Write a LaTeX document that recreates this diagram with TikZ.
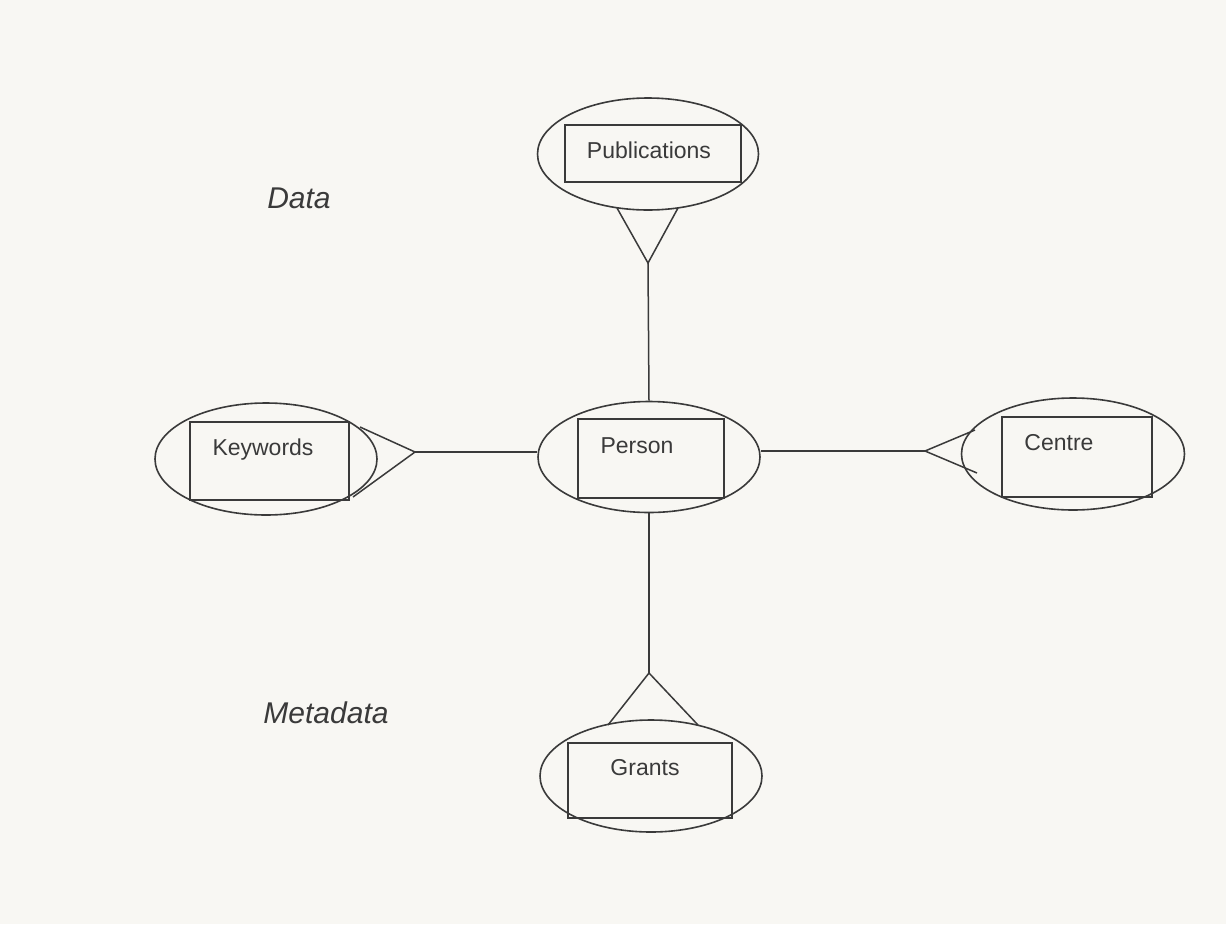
\documentclass[tikz,border=0pt]{standalone}
\usepackage{fontspec}
\setmainfont{Liberation Sans}
\usetikzlibrary{shapes.geometric}
\definecolor{paper}{HTML}{F8F7F3}
\definecolor{ink}{HTML}{3A3A3A}
\begin{document}
\begin{tikzpicture}[x=1pt,y=-1pt,
  ent/.style={draw=ink, line width=1.6pt, ellipse, inner sep=0pt},
  box/.style={draw=ink, line width=1.6pt, rectangle, inner sep=0pt},
  lbl/.style={font=\fontsize{23}{26}\selectfont, text=ink, inner sep=0pt, anchor=base},
  captxt/.style={font=\fontsize{30}{34}\selectfont\itshape, text=ink, inner sep=0pt, anchor=base},
  conn/.style={draw=ink, line width=1.5pt}]
\fill[paper] (0,0) rectangle (1226,924);
\useasboundingbox (0,0) rectangle (1226,924);

% entities
\node[ent, minimum width=221pt, minimum height=112pt] (pub) at (648,154) {};
\node[box, minimum width=176pt, minimum height=57pt] (pubB) at (653,153.5) {};
\node[lbl] (pubT) at (649,158) {Publications};

\node[ent, minimum width=222pt, minimum height=111pt] (per) at (649,457) {};
\node[box, minimum width=146pt, minimum height=79pt] (perB) at (651,458.5) {};
\node[lbl] (perT) at (637,453) {Person};

\node[ent, minimum width=222pt, minimum height=112pt] (key) at (266,459) {};
\node[box, minimum width=159pt, minimum height=78pt] (keyB) at (269.5,461) {};
\node[lbl] (keyT) at (263,455) {Keywords};

\node[ent, minimum width=223pt, minimum height=112pt] (cen) at (1073,454) {};
\node[box, minimum width=150pt, minimum height=80pt] (cenB) at (1077,457) {};
\node[lbl] (cenT) at (1059,450) {Centre};

\node[ent, minimum width=222pt, minimum height=112pt] (gra) at (651,776) {};
\node[box, minimum width=164pt, minimum height=75pt] (graB) at (650,780.5) {};
\node[lbl] (graT) at (645,775) {Grants};

% captions
\node[captxt] (data) at (299,208) {Data};
\node[captxt] (meta) at (326,723) {Metadata};

% crow's feet coordinates
\coordinate (pa) at (648,263);
\coordinate (pf1) at (617,208);
\coordinate (pf2) at (678,208);
\coordinate (ka) at (415,452);
\coordinate (kf1) at (360,427);
\coordinate (kf2) at (353,497);
\coordinate (ca) at (925,451);
\coordinate (cf1) at (975,430);
\coordinate (cf2) at (977,473);
\coordinate (ga) at (649,673);
\coordinate (gf1) at (608,725);
\coordinate (gf2) at (698,725);

% connectors
\draw[conn] (per.north) -- (pa);
\draw[conn] (pf1) -- (pa) -- (pf2);
\draw[conn] (ka -| per.west) -- (ka);
\draw[conn] (kf1) -- (ka) -- (kf2);
\draw[conn] (ca -| per.east) -- (ca);
\draw[conn] (cf1) -- (ca) -- (cf2);
\draw[conn] (per.south) -- (ga);
\draw[conn] (gf1) -- (ga) -- (gf2);
\end{tikzpicture}
\end{document}
